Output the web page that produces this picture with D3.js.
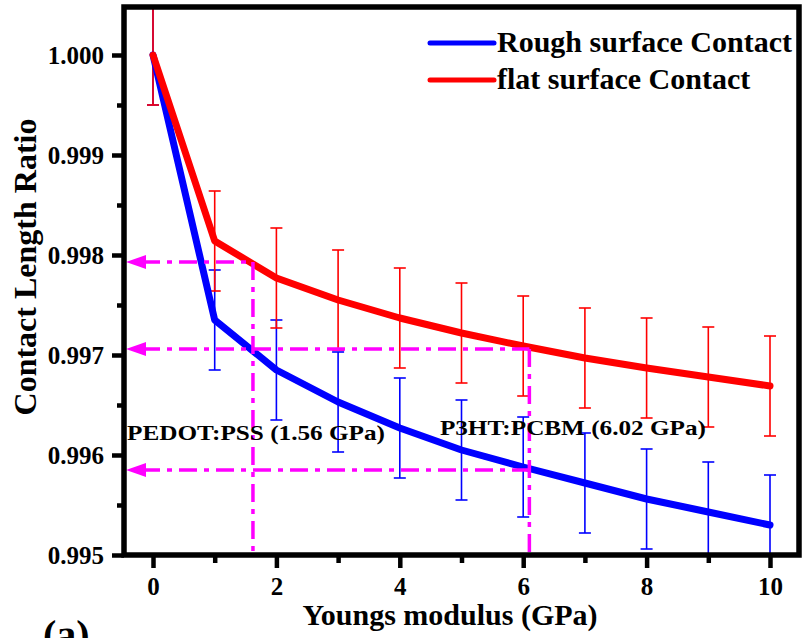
<!DOCTYPE html>
<html>
<head>
<meta charset="utf-8">
<script src="https://cdn.jsdelivr.net/npm/d3@7"></script>
<style>
    body { margin: 0; background: #fff; }
    text { font-family: "Liberation Serif", "Times New Roman", serif; font-weight: bold; }
</style>
</head>
<body>
<div id="chart"></div>
<script>
var modulus = [0, 1, 2, 3, 4, 5, 6, 7, 8, 9, 10];
var roughRatio = [1.0000, 0.99735, 0.99685, 0.99653, 0.99627, 0.99605, 0.99588, 0.99572, 0.99556, 0.99543, 0.99530];
var roughErr = [0.0005, 0.0005, 0.0005, 0.0005, 0.0005, 0.0005, 0.0005, 0.0005, 0.0005, 0.0005, 0.0005];
var flatRatio = [1.0000, 0.99814, 0.99777, 0.99755, 0.99737, 0.99722, 0.99709, 0.99697, 0.99687, 0.99678, 0.99669];
var flatErr = [0.0005, 0.0005, 0.0005, 0.0005, 0.0005, 0.0005, 0.0005, 0.0005, 0.0005, 0.0005, 0.0005];
var seriesNames = ["Rough surface Contact", "flat surface Contact"];
var xTicks = [0, 2, 4, 6, 8, 10];
var xMinorTicks = [1, 3, 5, 7, 9];
var yTicks = [0.995, 0.996, 0.997, 0.998, 0.999, 1.000];
var yMinorTicks = [0.9955, 0.9965, 0.9975, 0.9985, 0.9995];
// guide lines: level, and where the dash-dot stops
var guideLevels = [0.99793, 0.99706, 0.99585];
var guideEnds = [1.62, 6.1, 6.1];
var dropX = [1.62, 6.1];
var dropTop = [0.99793, 0.99706];
var noteLabels = ["PEDOT:PSS (1.56 GPa)", "P3HT:PCBM (6.02 GPa)"];

var W = 803, H = 638;
var o = { left: 124, right: 799, top: 7, bottom: 555 };

var svg = d3.select("#chart").append("svg")
    .attr("width", W)
    .attr("height", H);

var x = d3.scaleLinear().domain([-0.47, 10.47]).range([o.left, o.right]),
    y = d3.scaleLinear().domain([0.995, 1.00048]).range([o.bottom, o.top]);

svg.append("defs").append("clipPath")
    .attr("id", "plotClip")
    .append("rect")
    .attr("x", o.left)
    .attr("y", o.top)
    .attr("width", o.right - o.left)
    .attr("height", o.bottom - o.top);

var series = [
    { name: seriesNames[0], values: roughRatio, err: roughErr, color: "#0000ff" },
    { name: seriesNames[1], values: flatRatio, err: flatErr, color: "#ff0000" }
];

var plot = svg.append("g").attr("clip-path", "url(#plotClip)");

// error bars
series.forEach(function (s) {
    var g = plot.append("g").attr("class", "err");
    modulus.forEach(function (m, i) {
        var top = y(s.values[i] + s.err[i]), bot = y(s.values[i] - s.err[i]), cx = x(m);
        g.append("line").attr("x1", cx).attr("x2", cx).attr("y1", top).attr("y2", bot);
        g.append("line").attr("x1", cx - 6).attr("x2", cx + 6).attr("y1", top).attr("y2", top);
        g.append("line").attr("x1", cx - 6).attr("x2", cx + 6).attr("y1", bot).attr("y2", bot);
    });
    g.selectAll("line")
        .style("stroke", s.color)
        .style("stroke-width", 1.6);
});

var line = d3.line()
    .x(function (d) { return x(d[0]); })
    .y(function (d) { return y(d[1]); });

series.forEach(function (s) {
    plot.append("path")
        .datum(modulus.map(function (m, i) { return [m, s.values[i]]; }))
        .attr("d", line)
        .style("fill", "none")
        .style("stroke", s.color)
        .style("stroke-width", 7)
        .style("stroke-linejoin", "round")
        .style("stroke-linecap", "round");
});

// magenta dash-dot guides
var guides = svg.append("g").attr("class", "guides");
guideLevels.forEach(function (v, i) {
    guides.append("line")
        .attr("x1", o.left + 18).attr("x2", x(guideEnds[i]))
        .attr("y1", y(v)).attr("y2", y(v));
    guides.append("path")
        .attr("d", "M" + (o.left + 2) + "," + y(v) + "l20,-7l0,14z")
        .style("fill", "#ff00ff")
        .style("stroke", "none");
});
dropX.forEach(function (v, i) {
    guides.append("line")
        .attr("x1", x(v)).attr("x2", x(v))
        .attr("y1", y(dropTop[i])).attr("y2", o.bottom);
});
guides.selectAll("line")
    .style("stroke", "#ff00ff")
    .style("stroke-width", 3.5)
    .style("stroke-dasharray", "18,7,5,7");

// annotations
svg.append("text")
    .attr("x", o.left + 3)
    .attr("y", y(0.99615))
    .attr("textLength", 258)
    .attr("lengthAdjust", "spacingAndGlyphs")
    .style("font-size", "21px")
    .text(noteLabels[0]);
svg.append("text")
    .attr("x", x(4.65))
    .attr("y", y(0.9962))
    .attr("textLength", 266)
    .attr("lengthAdjust", "spacingAndGlyphs")
    .style("font-size", "21px")
    .text(noteLabels[1]);

// axes
var yAxis = d3.axisLeft(y).tickValues(yTicks).tickSize(12).tickPadding(8)
        .tickFormat(d3.format(".3f")),
    yMinor = d3.axisLeft(y).tickValues(yMinorTicks).tickSize(7).tickFormat(""),
    xAxis = d3.axisBottom(x).tickValues(xTicks).tickSize(13).tickPadding(9)
        .tickFormat(d3.format("d")),
    xMinor = d3.axisBottom(x).tickValues(xMinorTicks).tickSize(8).tickFormat("");

[
    svg.append("g").attr("transform", "translate(" + o.left + ",0)").call(yAxis),
    svg.append("g").attr("transform", "translate(" + o.left + ",0)").call(yMinor),
    svg.append("g").attr("transform", "translate(0," + o.bottom + ")").call(xAxis),
    svg.append("g").attr("transform", "translate(0," + o.bottom + ")").call(xMinor)
].forEach(function (g) {
    g.select(".domain").remove();
    g.selectAll(".tick line").style("stroke", "#000").style("stroke-width", 4.5);
    g.selectAll(".tick text")
        .style("font-size", "25px")
        .style("font-family", "'Liberation Serif', 'Times New Roman', serif")
        .style("font-weight", "bold")
        .style("fill", "#000");
});

svg.append("rect")
    .attr("x", o.left)
    .attr("y", o.top)
    .attr("width", o.right - o.left)
    .attr("height", o.bottom - o.top)
    .style("fill", "none")
    .style("stroke", "#000")
    .style("stroke-width", 5.5);

svg.append("text")
    .attr("x", 450)
    .attr("y", 625)
    .attr("text-anchor", "middle")
    .style("font-size", "30px")
    .text("Youngs modulus (GPa)");

svg.append("text")
    .attr("transform", "translate(36,267) rotate(-90)")
    .attr("text-anchor", "middle")
    .style("font-size", "32px")
    .text("Contact Length Ratio");

svg.append("text")
    .attr("x", 43)
    .attr("y", 648)
    .style("font-size", "40px")
    .text("(a)");

// legend
var legend = svg.append("g").attr("class", "legend");
series.forEach(function (s, i) {
    var ly = 43 + i * 37;
    legend.append("line")
        .attr("x1", 430).attr("x2", 494)
        .attr("y1", ly).attr("y2", ly)
        .style("stroke", s.color)
        .style("stroke-width", 5)
        .style("stroke-linecap", "round");
    legend.append("text")
        .attr("x", 497)
        .attr("y", ly + 9)
        .style("font-size", "30px")
        .text(s.name);
});
</script>
</body>
</html>
